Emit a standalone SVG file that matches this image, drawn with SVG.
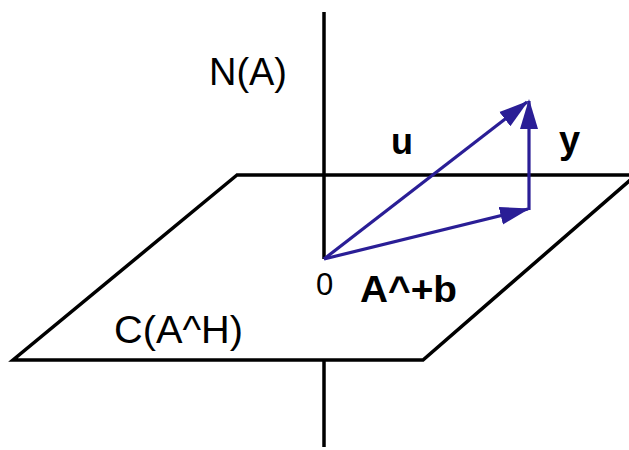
<svg xmlns="http://www.w3.org/2000/svg" width="629" height="450" viewBox="0 0 629 450">
  <style>
    .blk { stroke: #000; stroke-width: 3.5; fill: none; stroke-linejoin: miter; }
    .vec { stroke: #2a1e96; stroke-width: 3.2; fill: none; }
    .lbl { font-family: "Liberation Sans", Arial, sans-serif; fill: #000; }
    .bold { font-weight: bold; }
  </style>
  <defs>
    <marker id="arrow" markerUnits="userSpaceOnUse" markerWidth="32" markerHeight="20" viewBox="0 0 32 20" refX="28" refY="10" orient="auto">
      <path d="M0,1 L30,10 L0,19 Z" fill="#2a1e96"/>
    </marker>
  </defs>
  <rect width="629" height="450" fill="#fff"/>

  <g id="axis">
    <line class="blk" x1="324" y1="12" x2="324" y2="259"/>
    <line class="blk" x1="324" y1="360" x2="324" y2="447"/>
  </g>

  <g id="plane">
    <polygon class="blk" points="237,175 13,360 423,360 636,175"/>
  </g>

  <g id="connectors">
    <line id="vec-u" class="vec" x1="324" y1="259" x2="527" y2="102" marker-end="url(#arrow)"/>
    <line id="vec-Ab" class="vec" x1="324" y1="259" x2="528" y2="209" marker-end="url(#arrow)"/>
    <line id="vec-y" class="vec" x1="529" y1="210" x2="529" y2="101" marker-end="url(#arrow)"/>
  </g>

  <g id="label-NA"><text class="lbl" x="209" y="85" font-size="38" textLength="78" lengthAdjust="spacingAndGlyphs">N(A)</text></g>
  <g id="label-CAH"><text class="lbl" x="114" y="343" font-size="39" textLength="129" lengthAdjust="spacingAndGlyphs">C(A^H)</text></g>
  <g id="label-0"><text class="lbl" x="316" y="295" font-size="31">0</text></g>
  <g id="label-Ab"><text class="lbl bold" x="360" y="302" font-size="37" textLength="97" lengthAdjust="spacingAndGlyphs">A^+b</text></g>
  <g id="label-u"><text class="lbl bold" x="391" y="154" font-size="36">u</text></g>
  <g id="label-y"><text class="lbl bold" x="559" y="153" font-size="38">y</text></g>
</svg>
